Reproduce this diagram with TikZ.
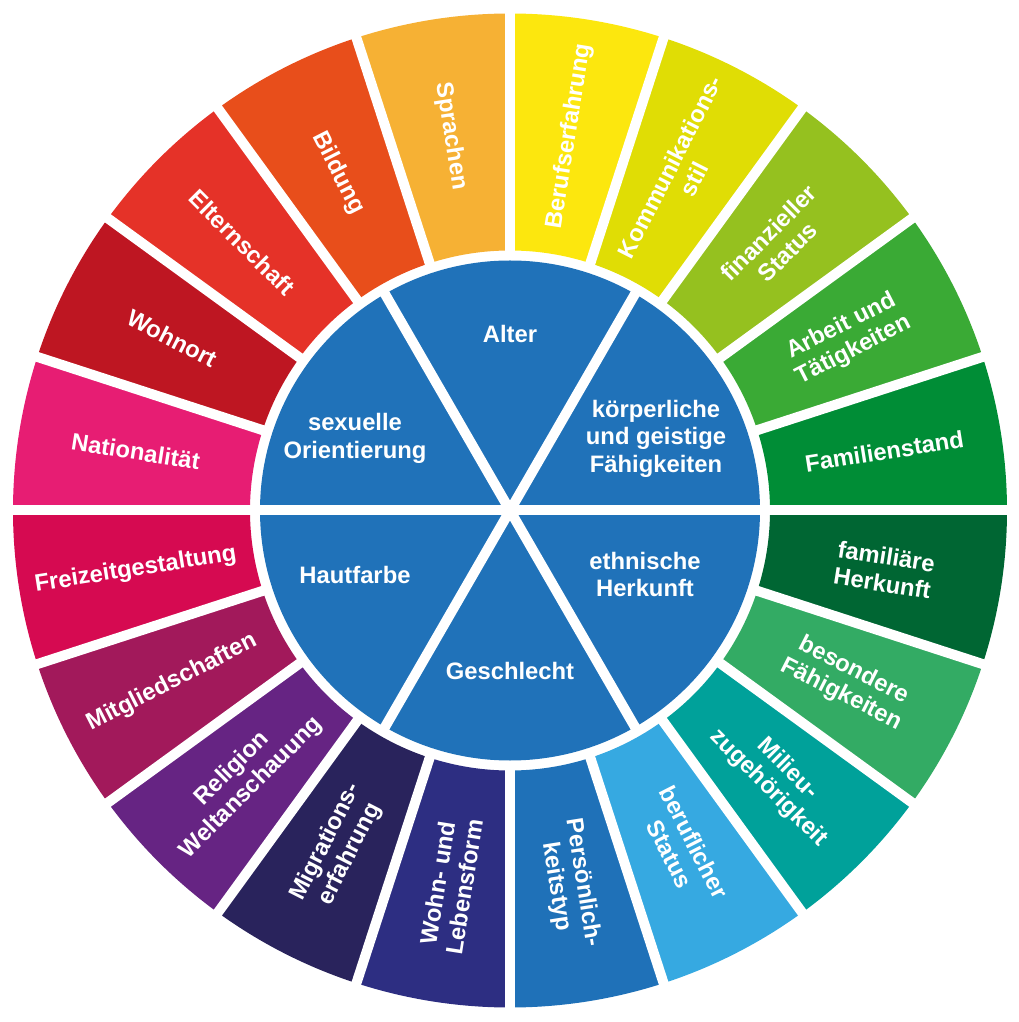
\documentclass[tikz,border=0pt]{standalone}
\usepackage{fontspec}
\setmainfont{Liberation Sans}
\usepackage{tikz}

\definecolor{cBeruf}{HTML}{FCE70E}
\definecolor{cKomm}{HTML}{E0DD05}
\definecolor{cFinanz}{HTML}{95C11F}
\definecolor{cArbeit}{HTML}{3AAA35}
\definecolor{cFamStand}{HTML}{008D36}
\definecolor{cFamHerk}{HTML}{006633}
\definecolor{cBesond}{HTML}{33AB64}
\definecolor{cMilieu}{HTML}{00A19A}
\definecolor{cBerufStat}{HTML}{36A9E1}
\definecolor{cPers}{HTML}{1F71B8}
\definecolor{cWohnform}{HTML}{2D2E82}
\definecolor{cMigr}{HTML}{29235C}
\definecolor{cRelig}{HTML}{662483}
\definecolor{cMitgl}{HTML}{A2195B}
\definecolor{cFreizeit}{HTML}{D60A51}
\definecolor{cNation}{HTML}{E71D73}
\definecolor{cWohnort}{HTML}{BE1622}
\definecolor{cEltern}{HTML}{E53228}
\definecolor{cBildung}{HTML}{E84E1B}
\definecolor{cSprache}{HTML}{F6B134}
\definecolor{cKern}{HTML}{2072B9}

\begin{document}
\begin{tikzpicture}[x=1pt,y=1pt,
  outer/.style={text=white,font=\bfseries\fontsize{23.8}{27}\selectfont,align=center,inner sep=0pt},
  inner/.style={text=white,font=\bfseries\fontsize{23.8}{27.5}\selectfont,align=center,inner sep=0pt},
  gap/.style={white,line width=10pt}]

\useasboundingbox (-510,-511.5) rectangle (508,510.5);

% outer ring, 20 segments of 18 degrees
\fill[cBeruf]     (72:260) arc[start angle=72,end angle=90,radius=260] -- (90:497) arc[start angle=90,end angle=72,radius=497] -- cycle;
\fill[cKomm]      (54:260) arc[start angle=54,end angle=72,radius=260] -- (72:497) arc[start angle=72,end angle=54,radius=497] -- cycle;
\fill[cFinanz]    (36:260) arc[start angle=36,end angle=54,radius=260] -- (54:497) arc[start angle=54,end angle=36,radius=497] -- cycle;
\fill[cArbeit]    (18:260) arc[start angle=18,end angle=36,radius=260] -- (36:497) arc[start angle=36,end angle=18,radius=497] -- cycle;
\fill[cFamStand]  (0:260) arc[start angle=0,end angle=18,radius=260] -- (18:497) arc[start angle=18,end angle=0,radius=497] -- cycle;
\fill[cFamHerk]   (-18:260) arc[start angle=-18,end angle=0,radius=260] -- (0:497) arc[start angle=0,end angle=-18,radius=497] -- cycle;
\fill[cBesond]    (-36:260) arc[start angle=-36,end angle=-18,radius=260] -- (-18:497) arc[start angle=-18,end angle=-36,radius=497] -- cycle;
\fill[cMilieu]    (-54:260) arc[start angle=-54,end angle=-36,radius=260] -- (-36:497) arc[start angle=-36,end angle=-54,radius=497] -- cycle;
\fill[cBerufStat] (-72:260) arc[start angle=-72,end angle=-54,radius=260] -- (-54:497) arc[start angle=-54,end angle=-72,radius=497] -- cycle;
\fill[cPers]      (-90:260) arc[start angle=-90,end angle=-72,radius=260] -- (-72:497) arc[start angle=-72,end angle=-90,radius=497] -- cycle;
\fill[cWohnform]  (-108:260) arc[start angle=-108,end angle=-90,radius=260] -- (-90:497) arc[start angle=-90,end angle=-108,radius=497] -- cycle;
\fill[cMigr]      (-126:260) arc[start angle=-126,end angle=-108,radius=260] -- (-108:497) arc[start angle=-108,end angle=-126,radius=497] -- cycle;
\fill[cRelig]     (-144:260) arc[start angle=-144,end angle=-126,radius=260] -- (-126:497) arc[start angle=-126,end angle=-144,radius=497] -- cycle;
\fill[cMitgl]     (-162:260) arc[start angle=-162,end angle=-144,radius=260] -- (-144:497) arc[start angle=-144,end angle=-162,radius=497] -- cycle;
\fill[cFreizeit]  (-180:260) arc[start angle=-180,end angle=-162,radius=260] -- (-162:497) arc[start angle=-162,end angle=-180,radius=497] -- cycle;
\fill[cNation]    (162:260) arc[start angle=162,end angle=180,radius=260] -- (180:497) arc[start angle=180,end angle=162,radius=497] -- cycle;
\fill[cWohnort]   (144:260) arc[start angle=144,end angle=162,radius=260] -- (162:497) arc[start angle=162,end angle=144,radius=497] -- cycle;
\fill[cEltern]    (126:260) arc[start angle=126,end angle=144,radius=260] -- (144:497) arc[start angle=144,end angle=126,radius=497] -- cycle;
\fill[cBildung]   (108:260) arc[start angle=108,end angle=126,radius=260] -- (126:497) arc[start angle=126,end angle=108,radius=497] -- cycle;
\fill[cSprache]   (90:260) arc[start angle=90,end angle=108,radius=260] -- (108:497) arc[start angle=108,end angle=90,radius=497] -- cycle;

 \draw[gap] (90:250)--(90:505);   \draw[gap] (72:250)--(72:505);
 \draw[gap] (54:250)--(54:505);   \draw[gap] (36:250)--(36:505);
 \draw[gap] (18:250)--(18:505);   \draw[gap] (0:250)--(0:505);
 \draw[gap] (-18:250)--(-18:505); \draw[gap] (-36:250)--(-36:505);
 \draw[gap] (-54:250)--(-54:505); \draw[gap] (-72:250)--(-72:505);
 \draw[gap] (-90:250)--(-90:505); \draw[gap] (-108:250)--(-108:505);
 \draw[gap] (-126:250)--(-126:505); \draw[gap] (-144:250)--(-144:505);
 \draw[gap] (-162:250)--(-162:505); \draw[gap] (180:250)--(180:505);
 \draw[gap] (162:250)--(162:505); \draw[gap] (144:250)--(144:505);
 \draw[gap] (126:250)--(126:505); \draw[gap] (108:250)--(108:505);

% inner disc
\fill[cKern] (0,0) circle[radius=250];
 \draw[gap] (0:255)--(180:255);
 \draw[gap] (60:255)--(240:255);
 \draw[gap] (120:255)--(300:255);

% labels of the ring
  \node[outer,rotate=81]   (beruf)     at (81:379)   {Berufserfahrung};
  \node[outer,rotate=63]   (komm)      at (63:379)   {Kommunikations-\\stil};
  \node[outer,rotate=45]   (finanz)    at (45:379)   {finanzieller\\Status};
  \node[outer,rotate=27]   (arbeit)    at (27:379)   {Arbeit und\\Tätigkeiten};
  \node[outer,rotate=9]    (famstand)  at (9:379)    {Familienstand};
  \node[outer,rotate=-9]   (famherk)   at (-9:379)   {familiäre\\Herkunft};
  \node[outer,rotate=-27]  (besond)    at (-27:379)  {besondere\\Fähigkeiten};
  \node[outer,rotate=-45]  (milieu)    at (-45:379)  {Milieu-\\zugehörigkeit};
  \node[outer,rotate=-63]  (berufstat) at (-63:379)  {beruflicher\\Status};
  \node[outer,rotate=-81]  (pers)      at (-81:379)  {Persönlich-\\keitstyp};
  \node[outer,rotate=81]   (wohnform)  at (-99:379)  {Wohn- und\\Lebensform};
  \node[outer,rotate=63]   (migr)      at (-117:379) {Migrations-\\erfahrung};
  \node[outer,rotate=45]   (relig)     at (-135:379) {Religion\\Weltanschauung};
  \node[outer,rotate=27]   (mitgl)     at (-153:379) {Mitgliedschaften};
  \node[outer,rotate=9]    (freizeit)  at (-171:379) {Freizeitgestaltung};
  \node[outer,rotate=-9]   (nation)    at (171:379)  {Nationalität};
  \node[outer,rotate=-27]  (wohnort)   at (153:379)  {Wohnort};
  \node[outer,rotate=-45]  (eltern)    at (135:379)  {Elternschaft};
  \node[outer,rotate=-63]  (bildung)   at (117:379)  {Bildung};
  \node[outer,rotate=-81]  (sprache)   at (99:379)   {Sprachen};

% labels of the disc
 \node[inner] (alter)   at (0,177)    {Alter};
 \node[inner] (koerper) at (146,72)   {körperliche\\und geistige\\Fähigkeiten};
 \node[inner] (ethnie)  at (135,-64)  {ethnische\\Herkunft};
 \node[inner] (geschl)  at (0,-160)   {Geschlecht};
 \node[inner] (haut)    at (-155,-64) {Hautfarbe};
 \node[inner] (sexorie) at (-155,72)  {sexuelle\\Orientierung};
\end{tikzpicture}
\end{document}
